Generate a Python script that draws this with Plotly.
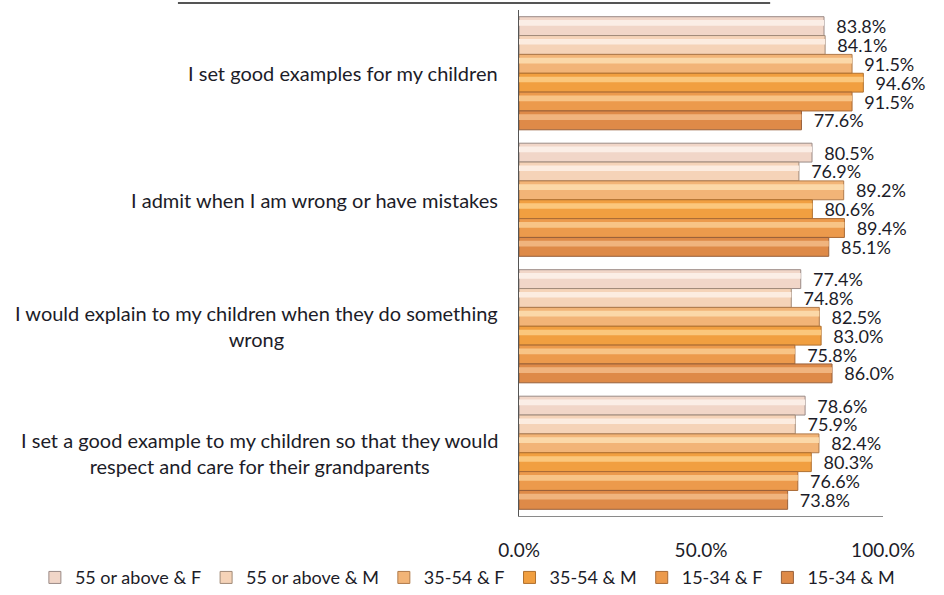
import plotly.graph_objects as go

categories = [
    "I set good examples for my children",
    "I admit when I am wrong or have mistakes",
    "I would explain to my children when they do something<br>wrong",
    "I set a good example to my children so that they would<br>respect and care for their grandparents",
]
series_names = ["55 or above & F", "55 or above & M", "35-54 & F",
                "35-54 & M", "15-34 & F", "15-34 & M"]
values = {
    "55 or above & F": [83.8, 80.5, 77.4, 78.6],
    "55 or above & M": [84.1, 76.9, 74.8, 75.9],
    "35-54 & F": [91.5, 89.2, 82.5, 82.4],
    "35-54 & M": [94.6, 80.6, 83.0, 80.3],
    "15-34 & F": [91.5, 89.4, 75.8, 76.6],
    "15-34 & M": [77.6, 85.1, 86.0, 73.8],
}
fill_colors = ["#f1d6c8", "#f5d3b8", "#f2b477", "#f19f40", "#ec9a4c", "#de8a48"]
highlight_colors = ["#fbeee6", "#fcece0", "#fbd8a8", "#fbc77c", "#f8c486", "#f0b47e"]
edge_colors = ["#9a8a86", "#a08a78", "#b07a4a", "#b0702e", "#a86a36", "#98603a"]
tick_vals = [0, 50, 100]
tick_text = ["0.0%", "50.0%", "100.0%"]

FONT = "Lato"
slot = 0.149
start = -0.447
ypos = list(range(len(categories)))

fig = go.Figure()
for i, name in enumerate(series_names):
    vals = values[name]
    off = start + i * slot
    fig.add_trace(go.Bar(
        name=name, orientation="h", x=vals, y=ypos,
        offset=off, width=slot,
        marker=dict(color=fill_colors[i], line=dict(color=edge_colors[i], width=1)),
        text=[f"  {v:.1f}%" for v in vals], textposition="outside",
        textfont=dict(family=FONT, size=18, color="#1c1c28"),
        cliponaxis=False, constraintext="none",
    ))
    # lighter sheen along the upper part of each bar
    fig.add_trace(go.Bar(
        orientation="h", x=vals, y=ypos,
        offset=off + slot * 0.18, width=slot * 0.3,
        marker=dict(color=highlight_colors[i], line=dict(width=0)),
        showlegend=False, hoverinfo="skip",
    ))

for j, cat in enumerate(categories):
    fig.add_annotation(
        x=-0.052, xref="paper", y=j, yref="y", text=cat,
        xanchor="right", yanchor="middle", align="center", showarrow=False,
        font=dict(family=FONT, size=20, color="#1c1c28"),
    )

fig.add_shape(type="line", xref="paper", yref="paper",
              x0=-0.937, x1=0.690, y0=1.0138, y1=1.0138,
              line=dict(color="#555555", width=2))

fig.update_layout(
    width=944, height=595, barmode="overlay",
    margin=dict(l=519, r=61, t=10, b=79, autoexpand=False),
    paper_bgcolor="white", plot_bgcolor="white",
    font=dict(family=FONT, size=16, color="#1c1c28"),
    showlegend=True,
    legend=dict(orientation="h", x=-1.33, xanchor="left", xref="paper",
                y=-0.122, yanchor="middle", yref="paper",
                font=dict(family=FONT, size=18), itemwidth=30,
                traceorder="normal", bgcolor="rgba(0,0,0,0)"),
    xaxis=dict(range=[0, 100], tickvals=tick_vals, ticktext=tick_text,
               showgrid=False, zeroline=False, showline=True,
               linecolor="#8a8a8a", linewidth=1, ticks="",
               ticklabelstandoff=17, tickfont=dict(family=FONT, size=19)),
    yaxis=dict(range=[3.5, -0.5], showticklabels=False, showgrid=False,
               zeroline=False, showline=True, linecolor="#555555",
               linewidth=1, ticks=""),
)

fig.write_html("out.html")
